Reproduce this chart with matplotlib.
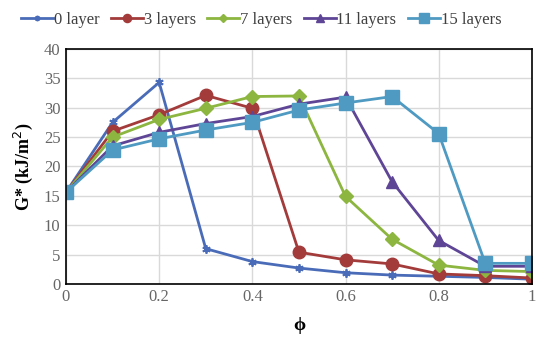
import matplotlib.pyplot as plt
import numpy as np

phi = [0, 0.1, 0.2, 0.3, 0.4, 0.5, 0.6, 0.7, 0.8, 0.9, 1.0]

layer0 = [15.6, 27.5, 34.3, 6.0, 3.8, 2.7, 1.9, 1.5, 1.3, 1.1, 0.8]
layer3 = [15.6, 26.0, 28.8, 32.1, 29.9, 5.4, 4.1, 3.4, 1.7, 1.4, 1.0]
layer7 = [15.6, 25.0, 28.0, 29.9, 31.9, 32.0, 14.9, 7.6, 3.2, 2.3, 2.1]
layer11 = [15.6, 23.5, 25.8, 27.3, 28.5, 30.6, 31.8, 17.4, 7.4, 3.0, 3.0]
layer15 = [15.6, 22.8, 24.7, 26.2, 27.5, 29.6, 30.8, 31.9, 25.6, 3.5, 3.5]

labels = ["0 layer", "3 layers", "7 layers", "11 layers", "15 layers"]
series = [layer0, layer3, layer7, layer11, layer15]
colors = ["#4A6CB8", "#A33B3B", "#8CB640", "#5E4596", "#4F9AC2"]
markers = ["x", "o", "D", "^", "s"]
msizes = [6, 9, 7, 9, 10]

plt.rcParams['font.family'] = ['Liberation Serif', 'DejaVu Serif']

fig = plt.figure(figsize=(5.5, 3.4), dpi=100)
ax = fig.add_axes([0.12, 0.165, 0.847, 0.691])

for ys, lab, c, m, ms in zip(series, labels, colors, markers, msizes):
    if m == "x":
        ax.plot(phi, ys, color=c, lw=2, marker=(6, 2, 0), ms=ms, mew=1.3, label=lab)
    else:
        ax.plot(phi, ys, color=c, lw=2, marker=m, ms=ms, label=lab)

ax.set_xlim(0, 1)
ax.set_ylim(0, 40)
ax.set_xticks(np.arange(0, 1.01, 0.2))
ax.set_xticklabels(["0", "0.2", "0.4", "0.6", "0.8", "1"])
ax.set_yticks(range(0, 41, 5))
ax.tick_params(length=0, labelsize=12, colors="#666666", pad=4)
ax.grid(True, color="#D9D9D9", lw=1)
ax.set_axisbelow(True)
for s in ax.spines.values():
    s.set_color("black")
    s.set_linewidth(1.2)

ax.set_xlabel("ϕ", fontsize=14, fontweight="bold", labelpad=8)
ax.set_ylabel("G* (kJ/m$^2$)", fontsize=13, fontweight="bold", labelpad=6)

fig.legend(loc="upper center", bbox_to_anchor=(0.475, 1.01), ncol=5, frameon=False,
           fontsize=12, handlelength=1.9, handletextpad=0.05, columnspacing=0.7,
           markerscale=0.65, labelcolor="#404040")

fig.savefig("out.png", dpi=100)
